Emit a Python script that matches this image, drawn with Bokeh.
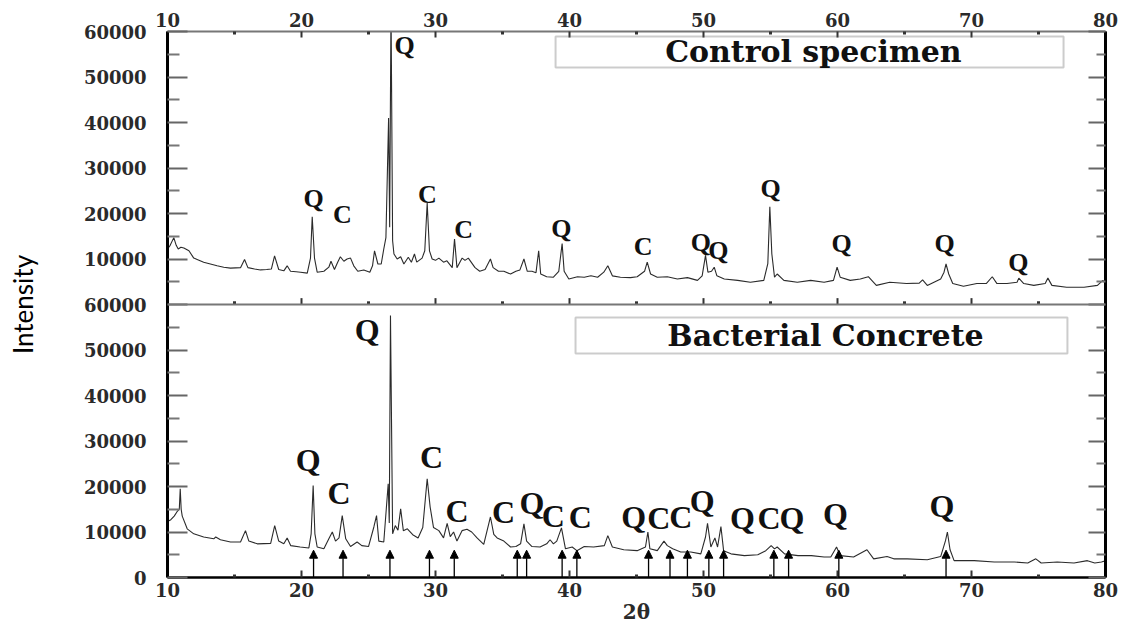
from bokeh.plotting import figure
from bokeh.models import (Range1d, LinearAxis, FixedTicker, ColumnDataSource, LabelSet, Label,
                          BoxAnnotation, Span, Arrow, NormalHead, CustomJSTickFormatter)
from bokeh.embed import file_html
from bokeh.resources import INLINE
from bokeh.core.properties import value

# ---------------- data ----------------
control_theta = [10.0, 10.2, 10.47, 10.65, 10.8, 11.0, 11.22, 11.6, 11.96, 12.3, 12.7, 13.2, 13.7, 14.2, 14.7,
                 15.45, 15.75, 16.0, 16.5, 16.94, 17.4, 17.75, 17.99, 18.3, 18.68, 18.93, 19.18, 19.6, 19.93,
                 20.43, 20.67, 20.8, 20.97, 21.17, 21.67, 22.04, 22.2, 22.46, 22.7, 22.9, 23.16, 23.4, 23.66,
                 23.9, 24.2, 24.65, 25.1, 25.3, 25.45, 25.7, 25.95, 26.14, 26.3, 26.5, 26.58, 26.68, 26.8,
                 26.9, 27.14, 27.4, 27.64, 27.97, 28.2, 28.43, 28.6, 29.0, 29.2, 29.38, 29.55, 29.75, 30.0,
                 30.25, 30.6, 30.85, 31.25, 31.42, 31.6, 31.99, 32.2, 32.45, 32.95, 33.3, 33.7, 34.1, 34.3,
                 34.7, 35.1, 35.6, 36.0, 36.3, 36.6, 36.85, 37.2, 37.5, 37.7, 37.85, 38.3, 38.8, 39.2, 39.45,
                 39.6, 39.95, 40.6, 41.1, 41.6, 42.1, 42.56, 42.86, 43.2, 43.8, 44.55, 45.05, 45.6, 45.8,
                 46.05, 46.55, 47.3, 48.05, 48.8, 49.55, 49.9, 50.15, 50.33, 50.6, 50.8, 51.0, 51.55, 52.55,
                 53.5, 54.5, 54.8, 54.95, 55.1, 55.3, 55.5, 56.0, 57.0, 58.0, 59.0, 59.7, 59.97, 60.2, 60.95,
                 61.7, 62.3, 62.9, 63.9, 65.15, 66.1, 66.35, 66.7, 67.7, 67.95, 68.1, 68.3, 68.6, 69.4, 70.4,
                 71.1, 71.55, 71.9, 72.65, 73.4, 73.53, 73.9, 74.65, 75.5, 75.7, 76.0, 77.1, 78.4, 79.4,
                 79.8, 80.0]
control_intensity = [12200, 13000, 14700, 13000, 12200, 12600, 12400, 11800, 10200, 9800, 9300, 8900, 8500, 8200,
                     8000, 8100, 9900, 8100, 7800, 7600, 7700, 7800, 10700, 7700, 7400, 8500, 7300, 7200, 7100,
                     6900, 10200, 19300, 10200, 7100, 7300, 8200, 9500, 7700, 9300, 10500, 9500, 10000, 10200,
                     8500, 7300, 7600, 7100, 8500, 11800, 8900, 8900, 12200, 14700, 41000, 17000, 66000, 14000,
                     11100, 10000, 10500, 8900, 10400, 9300, 11100, 9300, 10200, 11800, 22300, 11800, 10000, 9700,
                     10200, 9300, 9600, 8100, 14400, 8100, 10200, 9700, 10200, 8100, 7300, 7700, 10000, 8100,
                     7300, 7300, 6700, 7300, 7600, 10000, 7300, 7300, 7000, 11800, 6700, 6100, 6000, 7300, 13400,
                     7300, 5600, 6100, 6000, 6300, 6000, 7100, 8500, 6300, 6000, 5900, 6100, 7300, 9300,
                     6700, 6000, 6100, 5600, 5900, 5300, 6300, 10800, 7100, 7300, 8200, 6300, 5600, 5300,
                     4900, 5300, 9000, 21500, 11100, 6000, 6700, 5300, 4900, 5300, 4900, 5300, 8200, 6000, 5300,
                     5600, 6100, 4200, 4900, 4600, 4700, 5400, 4200, 5600, 7100, 8900, 6700, 4600, 4000, 4600,
                     4600, 6100, 4600, 4600, 4900, 5800, 4600, 4200, 4600, 5800, 4200, 3800, 3800, 4200,
                     5300, 4600]

bacterial_theta = [10.0, 10.25, 10.5, 10.7, 10.88, 10.95, 11.02, 11.1, 11.47, 11.96, 12.7, 13.45, 13.6, 13.95,
                   14.7, 15.45, 15.82, 16.07, 16.7, 17.7, 18.0, 18.3, 18.68, 18.93, 19.2, 19.9, 20.55, 20.72,
                   20.87, 21.0, 21.17, 21.67, 22.04, 22.3, 22.54, 22.8, 23.04, 23.3, 23.66, 24.15, 24.5, 25.0,
                   25.4, 25.6, 25.77, 26.14, 26.47, 26.55, 26.64, 26.8, 27.0, 27.2, 27.4, 27.6, 27.9, 28.3,
                   28.7, 29.05, 29.38, 29.6, 29.85, 30.25, 30.6, 30.87, 31.1, 31.35, 31.6, 31.98, 32.35, 32.7,
                   33.1, 33.6, 34.1, 34.35, 34.6, 35.1, 35.6, 36.0, 36.35, 36.6, 36.8, 37.2, 37.8, 38.3, 38.55,
                   38.8, 39.05, 39.4, 39.7, 40.2, 40.55, 41.1, 41.8, 42.6, 42.86, 43.2, 44.05, 45.05, 45.67,
                   45.85, 46.0, 46.55, 47.05, 47.3, 47.7, 48.3, 49.05, 49.8, 50.15, 50.3, 50.55, 50.85, 51.05,
                   51.3, 51.5, 52.05, 53.05, 54.05, 54.65, 55.05, 55.3, 55.5, 56.05, 57.05, 58.05, 59.0, 59.5,
                   59.93, 60.2, 61.2, 62.2, 62.7, 63.7, 64.2, 65.2, 66.7, 67.7, 68.06, 68.2, 68.4, 68.7, 70.2,
                   71.7, 73.2, 74.2, 74.8, 75.2, 76.4, 77.65, 78.65, 79.2, 79.7, 80.0]
bacterial_intensity = [12300, 12700, 13500, 14400, 15000, 19500, 15000, 13500, 10700, 9600, 8900, 8500, 8900, 8300,
                       7800, 7800, 10300, 8000, 7400, 7500, 11400, 8000, 7400, 8700, 7000, 6700, 6500, 9600,
                       20200, 9600, 6700, 6300, 8500, 10000, 8000, 8700, 13600, 8500, 6800, 7800, 7000, 6800,
                       11100, 13600, 8000, 7800, 20600, 12000, 57600, 9600, 11400, 10400, 15100, 10300, 10700, 9400,
                       8700, 11000, 21700, 15500, 11000, 10300, 8700, 11900, 9000, 10000, 8000, 10300, 10600, 10000,
                       8700, 7300, 13300, 9500, 8700, 8000, 6700, 6800, 7400, 11800, 8000, 6800, 6700, 7400, 8300,
                       7400, 8000, 10900, 6300, 6700, 5900, 6800, 6700, 7000, 9200, 6700, 6100, 5900, 6700,
                       10000, 6300, 5900, 8000, 7000, 6300, 5600, 5600, 5200, 8900, 11900, 6700, 8700, 6700,
                       11200, 5900, 5200, 4800, 5000, 5900, 7000, 6300, 6700, 5200, 4800, 4800, 4500, 4500,
                       6700, 4800, 4500, 6100, 4100, 4600, 4100, 4100, 3900, 4600, 8100, 10000, 6100, 3700, 3700,
                       3400, 3400, 3200, 4100, 3200, 3400, 3200, 3700, 3200, 3400, 3700]

control_label_theta = [20.9, 23.06, 27.7, 29.4, 32.1, 39.4, 45.5, 49.8, 51.1, 55.0, 60.3, 68.0, 73.5]
control_label_y = [23200, 19700, 57000, 24100, 16400, 16600, 12700, 13600, 11800, 25600, 13400, 13400, 9200]
control_label_text = ["Q", "C", "Q", "C", "C", "Q", "C", "Q", "Q", "Q", "Q", "Q", "Q"]

bacterial_label_theta = [20.5, 22.8, 24.9, 29.7, 31.6, 35.07, 37.2, 38.8, 40.8, 44.8, 46.67, 48.3, 49.9,
                         52.9, 54.9, 56.6, 59.85, 67.8]
bacterial_label_y = [25900, 18500, 54300, 26400, 14700, 14400, 16300, 13600, 13300, 13300, 13000, 13300, 16900,
                     13000, 13000, 13000, 14000, 15800]
bacterial_label_text = ["Q", "C", "Q", "C", "C", "C", "Q", "C", "C", "Q", "C", "C", "Q",
                        "Q", "C", "Q", "Q", "Q"]

arrow_theta = [20.9, 23.1, 26.6, 29.55, 31.4, 36.1, 36.8, 39.45, 40.55, 45.9, 47.5, 48.8, 50.4, 51.5,
               55.25, 56.35, 60.1, 68.1]
arrow_tip = 6000

x_ticks = [10, 20, 30, 40, 50, 60, 70, 80]
x_minor_ticks = [15, 25, 35, 45, 55, 65, 75]
y_ticks_bottom = [0, 10000, 20000, 30000, 40000, 50000, 60000]
y_ticks_top = [10000, 20000, 30000, 40000, 50000, 60000]
panel_span = 60000

# ---------------- figure ----------------
TICK_FONT = "DejaVu Serif"
p = figure(width=1120, height=627, x_range=Range1d(10, 80), y_range=Range1d(0, 2 * panel_span),
           output_backend="svg", toolbar_location=None, x_axis_location=None, y_axis_location=None,
           min_border_left=167, min_border_right=15, min_border_top=31, min_border_bottom=50)
p.extra_y_ranges = {"top": Range1d(-panel_span, panel_span)}
p.outline_line_color = None
p.xgrid.grid_line_color = None
p.ygrid.grid_line_color = None
p.background_fill_color = "white"
p.border_fill_color = "white"

x_ticker = FixedTicker(ticks=x_ticks, minor_ticks=x_minor_ticks)
all_y_ticks = y_ticks_bottom + [t + panel_span for t in y_ticks_top]
y_minor = [t + 5000 for t in range(0, 2 * panel_span, 10000)]
y_ticker = FixedTicker(ticks=all_y_ticks, minor_ticks=y_minor)
overrides = {t: str(t) for t in y_ticks_bottom}
overrides.update({t + panel_span: str(t) for t in y_ticks_top})


def style_labels(ax, size="18px"):
    ax.major_label_text_font = TICK_FONT
    ax.major_label_text_font_style = "bold"
    ax.major_label_text_font_size = size
    ax.major_label_text_color = "#2a2a2a"


left = LinearAxis(ticker=y_ticker, major_label_overrides=overrides, axis_label="Intensity")
left.axis_line_width = 3
left.axis_line_color = "black"
left.major_tick_in = 20
left.major_tick_out = 0
left.minor_tick_in = 12
left.minor_tick_out = 0
left.major_tick_line_width = 2
left.minor_tick_line_width = 2
left.major_tick_line_color = "#666666"
left.minor_tick_line_color = "#777777"
left.major_label_standoff = 21
left.axis_label_standoff = 42
left.axis_label_text_font = "Lato"
left.axis_label_text_font_style = "normal"
left.axis_label_text_font_size = "26px"
left.axis_label_text_color = "black"
style_labels(left)
p.add_layout(left, "left")

right = LinearAxis(ticker=y_ticker, formatter=CustomJSTickFormatter(code="return ''"))
right.axis_line_width = 3
right.axis_line_color = "black"
right.major_tick_in = 17
right.major_tick_out = 0
right.minor_tick_in = 9
right.minor_tick_out = 0
right.major_tick_line_width = 2
right.minor_tick_line_width = 2
right.major_tick_line_color = "#666666"
right.minor_tick_line_color = "#777777"
right.major_label_standoff = 0
p.add_layout(right, "right")

top = LinearAxis(ticker=x_ticker)
top.axis_line_width = 2
top.axis_line_color = "#777777"
top.major_tick_in = 6
top.major_tick_out = 0
top.minor_tick_in = 3
top.minor_tick_out = 0
top.major_tick_line_width = 2
top.minor_tick_line_width = 3
top.major_tick_line_color = "#333333"
top.minor_tick_line_color = "#333333"
top.major_label_standoff = 5
style_labels(top)
p.add_layout(top, "above")

bottom = LinearAxis(ticker=x_ticker, axis_label="2θ")
bottom.axis_line_width = 2.5
bottom.axis_line_color = "black"
bottom.major_tick_in = 7
bottom.major_tick_out = 0
bottom.minor_tick_in = 3
bottom.minor_tick_out = 0
bottom.major_tick_line_width = 2
bottom.minor_tick_line_width = 3
bottom.major_tick_line_color = "#333333"
bottom.minor_tick_line_color = "#333333"
bottom.major_label_standoff = 5
bottom.axis_label_standoff = 0
bottom.axis_label_text_font = TICK_FONT
bottom.axis_label_text_font_style = "bold"
bottom.axis_label_text_font_size = "20px"
bottom.axis_label_text_color = "#2a2a2a"
style_labels(bottom)
p.add_layout(bottom, "below")

# boundary between panels
p.add_layout(Span(location=panel_span, dimension="width", line_color="#777777", line_width=2))
mid_major = ColumnDataSource(dict(x=x_ticks[1:-1], y0=[0] * (len(x_ticks) - 2), y1=[1400] * (len(x_ticks) - 2)))
mid_minor = ColumnDataSource(dict(x=x_minor_ticks, y0=[0] * len(x_minor_ticks), y1=[700] * len(x_minor_ticks)))
p.segment(x0="x", y0="y0", x1="x", y1="y1", source=mid_major, y_range_name="top",
          line_color="#333333", line_width=2)
p.segment(x0="x", y0="y0", x1="x", y1="y1", source=mid_minor, y_range_name="top",
          line_color="#333333", line_width=3)

# traces
p.line(control_theta, control_intensity, y_range_name="top", line_color="#2b2b2b", line_width=1.1)
p.line(bacterial_theta, bacterial_intensity, line_color="#2b2b2b", line_width=1.1)

# arrows (bottom panel)
arrow_src = ColumnDataSource(dict(x=arrow_theta, y0=[0] * len(arrow_theta), y1=[arrow_tip] * len(arrow_theta)))
p.add_layout(Arrow(end=NormalHead(size=8, fill_color="black", line_color="black", line_width=1),
                   x_start="x", y_start="y0", x_end="x", y_end="y1", source=arrow_src,
                   line_color="black", line_width=1.3))

# peak labels
ctrl_src = ColumnDataSource(dict(x=control_label_theta, y=control_label_y, t=control_label_text))
p.add_layout(LabelSet(x="x", y="y", text="t", source=ctrl_src, y_range_name="top",
                      text_font=value("Liberation Serif"), text_font_style="bold", text_font_size="26px",
                      text_align="center", text_baseline="middle", text_color="#111111"))
bact_src = ColumnDataSource(dict(x=bacterial_label_theta, y=bacterial_label_y, t=bacterial_label_text))
p.add_layout(LabelSet(x="x", y="y", text="t", source=bact_src,
                      text_font=value("Liberation Serif"), text_font_style="bold", text_font_size="32px",
                      text_align="center", text_baseline="middle", text_color="#111111"))

# legend boxes
p.add_layout(BoxAnnotation(left=38.96, right=76.87, bottom=112100, top=118900,
                           fill_color=None, line_color="#555555", line_width=2))
p.add_layout(Label(x=58.2, y=115500, text="Control specimen", text_font=TICK_FONT,
                   text_font_style="bold", text_font_size="30px", text_align="center",
                   text_baseline="middle", text_color="#111111"))
p.add_layout(BoxAnnotation(left=40.45, right=77.16, bottom=49240, top=57150,
                           fill_color=None, line_color="#555555", line_width=2))
p.add_layout(Label(x=59.1, y=53200, text="Bacterial Concrete", text_font=TICK_FONT,
                   text_font_style="bold", text_font_size="30px", text_align="center",
                   text_baseline="middle", text_color="#111111"))

open("out.html", "w").write(file_html(p, INLINE))
